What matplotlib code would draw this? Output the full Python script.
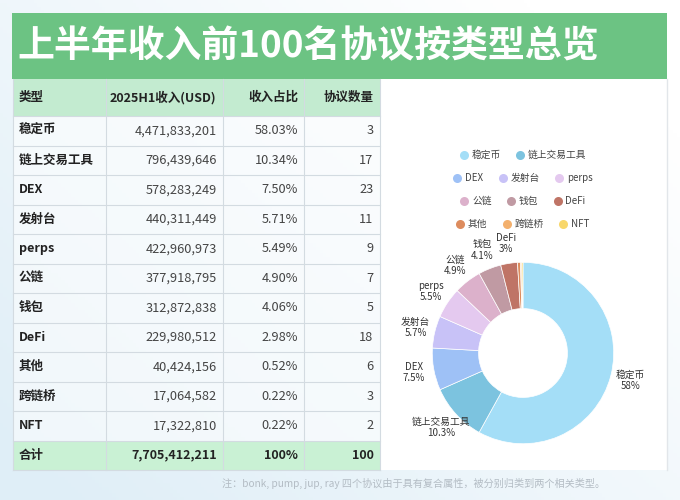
import numpy as np
import matplotlib
matplotlib.use("Agg")
import matplotlib.pyplot as plt
from matplotlib.patches import Rectangle
from matplotlib.lines import Line2D
from matplotlib.colors import to_rgb

plt.rcParams['font.family'] = ['Noto Sans CJK SC', 'DejaVu Sans']

# ---------------- data ----------------
title = "上半年收入前100名协议按类型总览"
headers = ["类型", "2025H1收入(USD)", "收入占比", "协议数量"]
categories = ["稳定币", "链上交易工具", "DEX", "发射台", "perps", "公链", "钱包", "DeFi", "其他", "跨链桥", "NFT"]
revenue = [4471833201, 796439646, 578283249, 440311449, 422960973, 377918795,
           312872838, 229980512, 40424156, 17064582, 17322810]
share_text = ["58.03%", "10.34%", "7.50%", "5.71%", "5.49%", "4.90%", "4.06%", "2.98%", "0.52%", "0.22%", "0.22%"]
counts = [3, 17, 23, 11, 9, 7, 5, 18, 6, 3, 2]
total_label = "合计"
total_revenue = 7705412211
total_share = "100%"
total_count = 100
colors = ["#a4def7", "#7cc3df", "#9ec1f6", "#c8c2f7", "#e4c9ef", "#dcb1cb",
          "#c09aa3", "#bf7466", "#dd8c5e", "#f3b06d", "#f8d76b"]
legend_rows = [["稳定币", "链上交易工具"], ["DEX", "发射台", "perps"],
               ["公链", "钱包", "DeFi"], ["其他", "跨链桥", "NFT"]]
footnote = "注：bonk, pump, jup, ray 四个协议由于具有复合属性，被分别归类到两个相关类型。"

# ---------------- figure ----------------
W, H = 680, 500
fig = plt.figure(figsize=(W / 100, H / 100), dpi=100)
ax = fig.add_axes([0, 0, 1, 1])
ax.set_xlim(0, W)
ax.set_ylim(H, 0)
ax.axis('off')

# background gradient (light blue at bottom-left -> white top-right)
gx = np.linspace(0, 1, 200)
gy = np.linspace(0, 1, 150)
X, Y = np.meshgrid(gx, gy)
t = np.clip(0.65 * (1 - X) + 0.55 * Y - 0.15, 0, 1)
c0 = np.array(to_rgb("#ffffff"))
c1 = np.array(to_rgb("#dfeef7"))
img = c0[None, None, :] * (1 - t[..., None]) + c1[None, None, :] * t[..., None]
ax.imshow(img, extent=[0, W, H, 0], aspect='auto', zorder=0)

# banner
ax.add_patch(Rectangle((12, 13), 655, 66, facecolor="#6cc383", edgecolor='none', zorder=1))
ax.text(17, 47, title, color='white', fontsize=26.6, fontweight='bold', va='center', ha='left', zorder=2)

# right white panel
ax.add_patch(Rectangle((380, 79), 287, 391, facecolor='white', edgecolor='none', zorder=1))
ax.plot([667, 667], [79, 470], color="#e2e6ea", lw=1, zorder=2)

# ---------------- table ----------------
col_edges = [12.7, 106, 222.7, 304, 379.5]
header_top, header_h, row_h = 79, 37, 29.5
pad = 6
grid_c = "#d3dbe1"

def row_top(i):
    return header_top + header_h + i * row_h

# header
ax.add_patch(Rectangle((col_edges[0], header_top), col_edges[-1] - col_edges[0], header_h,
                       facecolor="#c3ebd0", edgecolor='none', zorder=1))
for j, h in enumerate(headers):
    yc = header_top + header_h / 2
    if j == 0:
        ax.text(col_edges[0] + pad, yc, h, fontsize=9, fontweight='bold', color="#222222", va='center', ha='left', zorder=3)
    else:
        ax.text(col_edges[j + 1] - pad, yc, h, fontsize=9, fontweight='bold', color="#222222", va='center', ha='right', zorder=3)

# data rows
for i, cat in enumerate(categories):
    yt = row_top(i)
    ax.add_patch(Rectangle((col_edges[0], yt), col_edges[-1] - col_edges[0], row_h,
                           facecolor=(1, 1, 1, 0.55), edgecolor='none', zorder=1))
    yc = yt + row_h / 2
    vals = [f"{revenue[i]:,}", share_text[i], str(counts[i])]
    ax.text(col_edges[0] + pad, yc, cat, fontsize=9, fontweight='bold', color="#222222", va='center', ha='left', zorder=3)
    for j, v in enumerate(vals):
        ax.text(col_edges[j + 2] - pad, yc, v, fontsize=9.2, color="#444444", va='center', ha='right', zorder=3)

# total row
yt = row_top(len(categories))
ax.add_patch(Rectangle((col_edges[0], yt), col_edges[-1] - col_edges[0], row_h,
                       facecolor="#c9f1d4", edgecolor='none', zorder=1))
yc = yt + row_h / 2
ax.text(col_edges[0] + pad, yc, total_label, fontsize=9, fontweight='bold', color="#222222", va='center', ha='left', zorder=3)
for j, v in enumerate([f"{total_revenue:,}", total_share, str(total_count)]):
    ax.text(col_edges[j + 2] - pad, yc, v, fontsize=9, fontweight='bold', color="#222222", va='center', ha='right', zorder=3)

# grid lines
table_bottom = row_top(len(categories) + 1)
for k in range(len(categories) + 2):
    y = header_top + header_h + k * row_h
    ax.plot([col_edges[0], col_edges[-1]], [y, y], color=grid_c, lw=0.8, zorder=2)
for x in col_edges:
    ax.plot([x, x], [header_top, table_bottom], color=grid_c, lw=0.8, zorder=2)

# footnote
ax.text(605, 483, footnote, fontsize=7.3, color="#b3bcc4", ha='right', va='center', zorder=3)

# ---------------- donut ----------------
cx, cy, r = 523, 353, 90.7
pax = fig.add_axes([(cx - r) / W, 1 - (cy + r) / H, 2 * r / W, 2 * r / H])
total = sum(revenue)

def lab(name, v):
    p = round(v / total * 100, 1)
    if p < 1:
        return ""
    s = f"{p:.1f}".rstrip('0').rstrip('.')
    return f"{name}\n{s}%"

labels = [lab(n, v) for n, v in zip(categories, revenue)]
wedges, texts = pax.pie(revenue, colors=colors, startangle=90, counterclock=False,
                        labels=labels, labeldistance=1.22, radius=1,
                        wedgeprops=dict(width=0.51, edgecolor='white', linewidth=0.5),
                        textprops=dict(fontsize=7, color="#333333", linespacing=1.15))
for tx in texts:
    tx.set_ha('center')
    tx.set_va('center')
pax.set_xlim(-1, 1)
pax.set_ylim(-1, 1)
pax.set_aspect('equal')
pax.axis('off')

# ---------------- legend (4 centred rows) ----------------
legend_y = [155, 178, 201, 224]
for row, y in zip(legend_rows, legend_y):
    handles = [Line2D([], [], marker='o', linestyle='none', markersize=6.5,
                      markerfacecolor=colors[categories.index(n)], markeredgecolor='none')
               for n in row]
    fig.legend(handles, row, loc='center', bbox_to_anchor=(cx / W, 1 - y / H),
               ncol=len(row), frameon=False, fontsize=7, handlelength=0.8,
               handletextpad=0.4, columnspacing=1.6, borderpad=0, labelcolor="#444444")

fig.savefig("out.png", dpi=100)
